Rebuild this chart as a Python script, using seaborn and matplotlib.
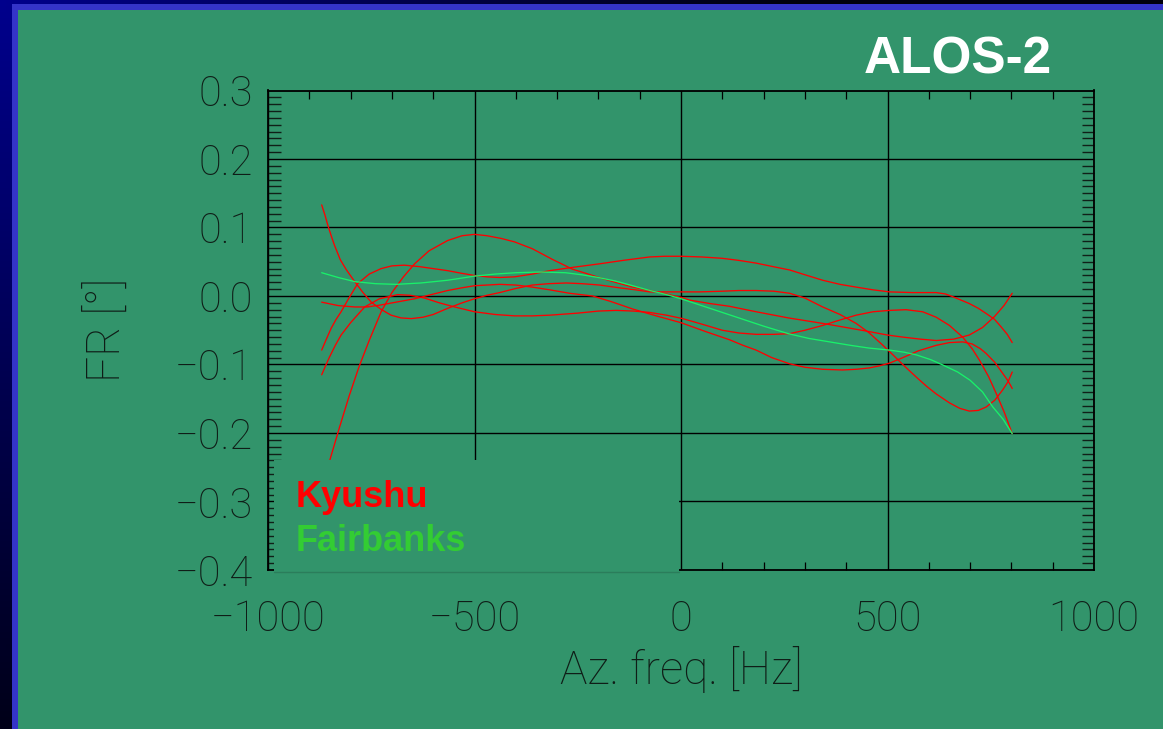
import numpy as np
import pandas as pd
import matplotlib
matplotlib.use("Agg")
import matplotlib.pyplot as plt
from matplotlib.patches import Rectangle
from matplotlib.ticker import MultipleLocator
import seaborn as sns

# ---------------- data ----------------
freq_k1 = [-870, -862, -855, -847, -839, -825, -810, -790, -770, -750, -725, -702, -678, -653, -625,
           -600, -565, -530, -500, -470, -439, -400, -360, -320, -278, -240, -197, -150, -110, -76,
           -40, 0, 45, 100, 140, 182, 225, 263, 300, 343, 385, 424, 456, 489, 515, 537, 569, 595,
           618, 650, 675, 698, 720, 739, 760, 779, 792, 802]
fr_k1 = [0.133, 0.118, 0.103, 0.088, 0.074, 0.053, 0.038, 0.021, 0.005, -0.009, -0.020, -0.028,
         -0.032, -0.033, -0.031, -0.027, -0.018, -0.010, -0.004, 0.001, 0.005, 0.011, 0.016, 0.018,
         0.019, 0.018, 0.016, 0.012, 0.009, 0.006, 0.006, 0.006, 0.006, 0.007, 0.008, 0.008, 0.007,
         0.004, -0.003, -0.016, -0.027, -0.040, -0.054, -0.072, -0.087, -0.100, -0.118, -0.132,
         -0.143, -0.156, -0.164, -0.168, -0.167, -0.162, -0.152, -0.137, -0.125, -0.111]

freq_k2 = [-870, -830, -790, -760, -726, -690, -645, -605, -565, -530, -500, -470, -439, -400, -360,
           -318, -270, -214, -170, -117, -60, 0, 60, 118, 150, 182, 220, 263, 300, 343, 391, 424,
           456, 480, 505, 537, 575, 618, 650, 682, 705, 725, 739, 760, 779, 792, 802]
fr_k2 = [-0.009, -0.014, -0.016, -0.016, -0.013, -0.009, -0.004, 0.002, 0.008, 0.012, 0.015, 0.016,
         0.017, 0.016, 0.013, 0.009, 0.004, 0.000, -0.008, -0.019, -0.029, -0.039, -0.052, -0.064,
         -0.072, -0.079, -0.090, -0.099, -0.104, -0.107, -0.108, -0.107, -0.105, -0.102, -0.098,
         -0.090, -0.080, -0.072, -0.068, -0.067, -0.070, -0.077, -0.084, -0.097, -0.113, -0.124,
         -0.135]

freq_k3 = [-870, -858, -847, -835, -823, -805, -783, -755, -726, -700, -670, -635, -600, -565, -530,
           -500, -470, -439, -403, -360, -318, -260, -197, -140, -76, -40, 0, 50, 100, 140, 182, 222,
           263, 300, 343, 385, 424, 465, 505, 560, 618, 640, 658, 678, 698, 720, 740, 759, 775, 790,
           802]
fr_k3 = [-0.079, -0.062, -0.047, -0.034, -0.023, -0.004, 0.018, 0.032, 0.040, 0.044, 0.045, 0.043,
         0.040, 0.037, 0.033, 0.030, 0.028, 0.027, 0.028, 0.032, 0.037, 0.042, 0.047, 0.052, 0.057,
         0.058, 0.058, 0.057, 0.055, 0.052, 0.048, 0.043, 0.038, 0.031, 0.023, 0.017, 0.013, 0.009,
         0.006, 0.005, 0.005, 0.003, -0.001, -0.006, -0.011, -0.018, -0.026, -0.034, -0.045, -0.056,
         -0.068]

freq_k4 = [-870, -860, -851, -837, -823, -800, -766, -730, -686, -655, -621, -585, -548, -500, -450,
           -403, -360, -318, -250, -200, -157, -115, -76, -35, 4, 50, 100, 140, 182, 225, 263, 300,
           343, 385, 424, 465, 505, 545, 585, 618, 650, 682, 705, 723, 745, 763, 783, 802]
fr_k4 = [-0.115, -0.101, -0.089, -0.072, -0.057, -0.039, -0.016, -0.004, 0.002, 0.001, -0.003,
         -0.010, -0.016, -0.023, -0.027, -0.029, -0.029, -0.028, -0.025, -0.022, -0.021, -0.022,
         -0.024, -0.028, -0.033, -0.041, -0.050, -0.054, -0.056, -0.056, -0.055, -0.050, -0.043,
         -0.035, -0.028, -0.023, -0.021, -0.020, -0.023, -0.031, -0.043, -0.060, -0.077, -0.094,
         -0.118, -0.142, -0.170, -0.201]

freq_k5 = [-870, -850, -827, -803, -780, -755, -726, -700, -672, -645, -610, -565, -530, -500, -470,
           -435, -403, -360, -310, -262, -214, -165, -117, -75, -36, 0, 21, 70, 117, 182, 260, 343,
           400, 456, 500, 537, 580, 618, 660, 698, 730, 759, 782, 802]
fr_k5 = [-0.275, -0.239, -0.192, -0.145, -0.104, -0.065, -0.023, 0.005, 0.028, 0.047, 0.066, 0.081,
         0.088, 0.090, 0.088, 0.084, 0.079, 0.069, 0.053, 0.039, 0.030, 0.021, 0.013, 0.008, 0.003,
         -0.002, -0.006, -0.011, -0.015, -0.023, -0.032, -0.040, -0.046, -0.052, -0.057, -0.060,
         -0.063, -0.065, -0.063, -0.057, -0.046, -0.030, -0.014, 0.004]

freq_fb = [-870, -830, -790, -740, -690, -630, -565, -500, -450, -400, -340, -280, -240, -200, -160,
           -117, -75, -35, 0, 45, 90, 140, 200, 260, 310, 360, 410, 455, 505, 540, 570, 605, 635, 670,
           700, 730, 755, 780, 802]
fr_fb = [0.034, 0.027, 0.021, 0.018, 0.017, 0.019, 0.023, 0.029, 0.032, 0.034, 0.035, 0.034, 0.031,
         0.027, 0.022, 0.015, 0.008, 0.002, -0.004, -0.013, -0.022, -0.032, -0.044, -0.055, -0.062,
         -0.067, -0.072, -0.076, -0.079, -0.082, -0.086, -0.093, -0.101, -0.111, -0.123, -0.140,
         -0.162, -0.180, -0.201]

x_ticks = [-1000, -500, 0, 500, 1000]
y_ticks = [-0.4, -0.3, -0.2, -0.1, 0.0, 0.1, 0.2, 0.3]
y_ticklabels = ["\u22120.4", "\u22120.3", "\u22120.2", "\u22120.1", "0.0", "0.1", "0.2", "0.3"]
x_ticklabels = ["\u22121000", "\u2212500", "0", "500", "1000"]

kyushu = [(freq_k1, fr_k1), (freq_k2, fr_k2), (freq_k3, fr_k3), (freq_k4, fr_k4), (freq_k5, fr_k5)]

# ---------------- style ----------------
GREEN = "#32946B"
BLUE = "#3434C8"
INK = "#0f1d17"

sns.set_style("white")
plt.rcParams["font.family"] = ["Roboto", "DejaVu Sans"]

W, H = 1163, 729
fig = plt.figure(figsize=(W / 100, H / 100), dpi=100)
fig.patch.set_facecolor("#000010")

# dark navy background gradient behind the slide panel
bg = fig.add_axes([0, 0, 1, 1], zorder=-10)
yy, xx = np.mgrid[0:1:120j, 0:1:190j]
dist = np.sqrt((xx * 1.6) ** 2 + (yy * 1.0) ** 2)
inten = np.clip(1 - dist / 1.1, 0, 1)
img = np.zeros((120, 190, 3))
img[..., 2] = 0.05 + 0.5 * inten
bg.imshow(img, aspect="auto", extent=[0, 1, 0, 1], origin="upper")
bg.axis("off")

# slide panel: blue border + green body
fig.patches.append(Rectangle((12 / W, 0), 1.2, 1 - 4 / H, transform=fig.transFigure,
                             facecolor=BLUE, edgecolor="none", zorder=-5))
fig.patches.append(Rectangle((17.5 / W, 0), 1.2, 1 - 10 / H, transform=fig.transFigure,
                             facecolor=GREEN, edgecolor="none", zorder=-4))

# main axes
ax = fig.add_axes([268 / W, 1 - 570 / H, 826 / W, (570 - 90.5) / H])
ax.set_facecolor(GREEN)
ax.patch.set_alpha(0)

for fx, fy in kyushu:
    sns.lineplot(x=fx, y=fy, ax=ax, color="#FF0000", linewidth=0.95, estimator=None)
sns.lineplot(x=freq_fb, y=fr_fb, ax=ax, color="#19F06A", linewidth=0.95, estimator=None)

ax.set_xlim(-1000, 1000)
ax.set_ylim(-0.4, 0.3)
ax.set_xticks(x_ticks)
ax.set_xticklabels(x_ticklabels)
ax.set_yticks(y_ticks)
ax.set_yticklabels(y_ticklabels)
ax.xaxis.set_minor_locator(MultipleLocator(100))
ax.yaxis.set_minor_locator(MultipleLocator(0.01))

ax.grid(True, which="major", color="black", linewidth=1.0)
ax.tick_params(which="major", length=0, labelsize=30, colors=INK, labelcolor=INK)
ax.tick_params(axis="x", which="major", pad=21)
ax.tick_params(axis="y", which="major", pad=11)
ax.tick_params(axis="x", which="minor", direction="in", length=5.5, width=0.9,
               top=True, bottom=True, color="black")
ax.tick_params(axis="y", which="minor", direction="in", length=9, width=1.0,
               left=True, right=True, color="#102018")
for lab in ax.get_xticklabels() + ax.get_yticklabels():
    lab.set_fontweight("light")

for s in ax.spines.values():
    s.set_color("black")
    s.set_linewidth(1.3)

ax.set_xlabel("Az. freq. [Hz]", fontsize=33, color=INK, fontweight="light")
ax.set_ylabel("FR [\u00b0]", fontsize=33, color=INK, fontweight="light")
ax.xaxis.set_label_coords(0.5, -0.158)
ax.yaxis.set_label_coords(-0.168, 0.5)

# label box that hides the lower-left corner of the plot
x0 = (275 - 681.5) / 0.413
x1 = (679 - 681.5) / 0.413
ax.add_patch(Rectangle((x0, -0.404), x1 - x0, -0.240 + 0.404, facecolor=GREEN,
                       edgecolor="none", zorder=3, clip_on=False))
ax.plot([x0, x1], [-0.4025, -0.4025], color="#2b7d5b", linewidth=1.0, zorder=3.1, clip_on=False)

fig.text(296 / W, 1 - 507 / H, "Kyushu", color="#FF0000", fontsize=26, fontweight="bold",
         family=["Liberation Sans", "DejaVu Sans"], ha="left", va="baseline", zorder=5)
fig.text(296 / W, 1 - 551 / H, "Fairbanks", color="#33CC33", fontsize=26, fontweight="bold",
         family=["Liberation Sans", "DejaVu Sans"], ha="left", va="baseline", zorder=5)
fig.text(864 / W, 1 - 73 / H, "ALOS-2", color="white", fontsize=37, fontweight="bold",
         family=["Liberation Sans", "DejaVu Sans"], ha="left", va="baseline", zorder=5)

fig.savefig("out.png", dpi=100, facecolor=fig.get_facecolor())
